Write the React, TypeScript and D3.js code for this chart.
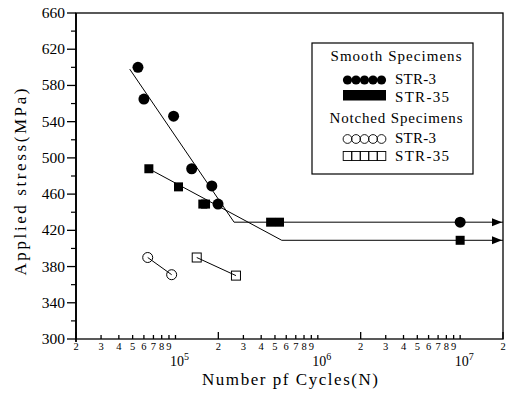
import React from "react";
import * as d3 from "d3";

// smooth specimens
const smoothStr3Cycles = [54500, 60000, 97000, 130000, 180000, 199000, 1e7];
const smoothStr3Stress = [600, 565, 546, 488, 469, 449, 429];
const smoothStr35Cycles = [65000, 105000, 155600, 162600, 466000, 538000, 1e7];
const smoothStr35Stress = [488, 468, 449, 449, 429, 429, 409];

// notched specimens
const notchedStr3Cycles = [63800, 94000];
const notchedStr3Stress = [390, 371];
const notchedStr35Cycles = [141000, 266000];
const notchedStr35Stress = [390, 370];

// fitted S-N lines (start, knee, end)
const fitStr3Cycles = [47700, 258000, 2e7];
const fitStr3Stress = [598, 429, 429];
const fitStr35Cycles = [65000, 558000, 2e7];
const fitStr35Stress = [488, 409, 409];

const yTicks = [300, 340, 380, 420, 460, 500, 540, 580, 620, 660];
const yMinorTicks = [320, 360, 400, 440, 480, 520, 560, 600, 640];
const decades = [1e4, 1e5, 1e6];
const mantissas = [2, 3, 4, 5, 6, 7, 8, 9];
const decadeLabels = [
  { value: 1e5, exp: "5" },
  { value: 1e6, exp: "6" },
  { value: 1e7, exp: "7" },
];

const W = 506;
const H = 401;
const margin = { top: 13, right: 3, bottom: 62, left: 76 };
const serif = { fontFamily: "Liberation Serif, DejaVu Serif, Times New Roman, serif" };

export default function App() {
  const x = d3
    .scaleLog()
    .domain([2e4, 2e7])
    .range([margin.left, W - margin.right]);
  const y = d3
    .scaleLinear()
    .domain([300, 660])
    .range([H - margin.bottom, margin.top]);

  const x0 = margin.left;
  const x1 = W - margin.right;
  const y0 = H - margin.bottom;
  const y1 = margin.top;

  const line = d3
    .line<[number, number]>()
    .x((d) => x(d[0]))
    .y((d) => y(d[1]));

  const zip = (a: number[], b: number[]): [number, number][] =>
    a.map((v, i) => [v, b[i]]);

  const xTicks: { v: number; m: number }[] = [];
  decades.forEach((dec) =>
    mantissas.forEach((m) => {
      const v = dec * m;
      if (v >= 2e4) xTicks.push({ v, m });
    }),
  );
  xTicks.push({ v: 1e5, m: 10 }, { v: 1e6, m: 10 }, { v: 1e7, m: 10 });
  xTicks.push({ v: 2e7, m: 2 });

  const arrow = (yv: number) => {
    const tx = x1 - 1;
    const ty = y(yv);
    return `M${tx},${ty}L${tx - 10},${ty - 4}L${tx - 10},${ty + 4}Z`;
  };

  const legX = 312;
  const legY = 43;
  const symX0 = 343;
  const symX1 = 386;
  const five = d3.range(5).map((i) => symX0 + 4.5 + (i * (symX1 - symX0 - 9)) / 4);

  return (
    <svg
      width={W}
      height={H}
      style={{ position: "fixed", left: 0, top: 0, background: "#fff", ...serif }}
    >
      <rect x={0} y={0} width={W} height={H} fill="#fff" />

      {/* frame */}
      <rect
        x={x0}
        y={y1}
        width={x1 - x0}
        height={y0 - y1}
        fill="none"
        stroke="#000"
        strokeWidth={1.3}
      />
      <line x1={x0} x2={x0} y1={y1} y2={y0 + 3} stroke="#000" strokeWidth={1.8} />

      {/* y axis */}
      {yTicks.map((t) => (
        <g key={t}>
          <line x1={x0 - 9} x2={x0} y1={y(t)} y2={y(t)} stroke="#000" strokeWidth={1.3} />
          <text x={x0 - 11} y={y(t) + 5} textAnchor="end" fontSize={15.5} style={serif}>
            {t}
          </text>
        </g>
      ))}
      {yMinorTicks.map((t) => (
        <line key={t} x1={x0 - 5} x2={x0} y1={y(t)} y2={y(t)} stroke="#000" strokeWidth={1.2} />
      ))}
      <text
        transform={`translate(26,${(y0 + y1) / 2 + 6}) rotate(-90)`}
        textAnchor="middle"
        fontSize={17}
        textLength={187}
        lengthAdjust="spacing"
        style={serif}
      >
        Applied  stress(MPa)
      </text>

      {/* x axis */}
      {xTicks.map((t, i) => (
        <line
          key={i}
          x1={x(t.v)}
          x2={x(t.v)}
          y1={y0}
          y2={y0 - (t.m === 2 ? 7 : 4)}
          stroke="#000"
          strokeWidth={1.3}
        />
      ))}
      {xTicks
        .filter((t) => t.m < 10)
        .map((t, i) => (
          <text key={i} x={x(t.v)} y={y0 + 11} textAnchor="middle" fontSize={10.5} style={serif}>
            {t.m}
          </text>
        ))}
      {decadeLabels.map((d) => (
        <text key={d.exp} x={x(d.value) + 4} y={y0 + 27} textAnchor="middle" fontSize={14} style={serif}>
          10
          <tspan dy={-6} fontSize={10}>
            {d.exp}
          </tspan>
        </text>
      ))}
      <text
        x={290}
        y={y0 + 46}
        textAnchor="middle"
        fontSize={17}
        textLength={176}
        lengthAdjust="spacing"
        style={serif}
      >
        Number pf Cycles(N)
      </text>

      {/* fitted lines */}
      <path d={line(zip(fitStr3Cycles, fitStr3Stress)) ?? ""} fill="none" stroke="#000" strokeWidth={1} />
      <path d={line(zip(fitStr35Cycles, fitStr35Stress)) ?? ""} fill="none" stroke="#000" strokeWidth={1} />
      <path d={arrow(fitStr3Stress[2])} fill="#000" />
      <path d={arrow(fitStr35Stress[2])} fill="#000" />
      <path d={line(zip(notchedStr3Cycles, notchedStr3Stress)) ?? ""} fill="none" stroke="#000" strokeWidth={1} />
      <path d={line(zip(notchedStr35Cycles, notchedStr35Stress)) ?? ""} fill="none" stroke="#000" strokeWidth={1} />

      {/* markers */}
      {smoothStr3Cycles.map((c, i) => (
        <circle key={i} cx={x(c)} cy={y(smoothStr3Stress[i])} r={5.5} fill="#000" />
      ))}
      {smoothStr35Cycles.map((c, i) => (
        <rect
          key={i}
          x={x(c) - 4.5}
          y={y(smoothStr35Stress[i]) - 4.5}
          width={9}
          height={9}
          fill="#000"
        />
      ))}
      {notchedStr3Cycles.map((c, i) => (
        <circle
          key={i}
          cx={x(c)}
          cy={y(notchedStr3Stress[i])}
          r={5}
          fill="none"
          stroke="#000"
          strokeWidth={1}
        />
      ))}
      {notchedStr35Cycles.map((c, i) => (
        <rect
          key={i}
          x={x(c) - 4.5}
          y={y(notchedStr35Stress[i]) - 4.5}
          width={9}
          height={9}
          fill="none"
          stroke="#000"
          strokeWidth={1}
        />
      ))}

      {/* legend */}
      <rect x={legX} y={legY} width={161} height={131} fill="#fff" stroke="#000" strokeWidth={1.2} />
      <text x={396} y={61} textAnchor="middle" fontSize={15} textLength={131} lengthAdjust="spacing" style={serif}>
        Smooth  Specimens
      </text>
      {five.map((cx, i) => (
        <circle key={i} cx={cx} cy={80} r={4.6} fill="#000" />
      ))}
      <text x={395} y={84} fontSize={15} textLength={41} lengthAdjust="spacing" style={serif}>
        STR-3
      </text>
      <rect x={symX0} y={90} width={symX1 - symX0} height={10.5} fill="#000" />
      <text x={395} y={102} fontSize={15} textLength={54} lengthAdjust="spacing" style={serif}>
        STR-35
      </text>
      <text x={396} y={123} textAnchor="middle" fontSize={15} textLength={133} lengthAdjust="spacing" style={serif}>
        Notched  Specimens
      </text>
      {five.map((cx, i) => (
        <circle key={i} cx={cx} cy={139} r={4.4} fill="none" stroke="#000" strokeWidth={0.9} />
      ))}
      <text x={395} y={143} fontSize={15} textLength={41} lengthAdjust="spacing" style={serif}>
        STR-3
      </text>
      {five.map((cx, i) => (
        <rect
          key={i}
          x={cx - 4.3}
          y={151.5}
          width={8.6}
          height={9}
          fill="none"
          stroke="#000"
          strokeWidth={0.9}
        />
      ))}
      <text x={395} y={161} fontSize={15} textLength={54} lengthAdjust="spacing" style={serif}>
        STR-35
      </text>
    </svg>
  );
}
